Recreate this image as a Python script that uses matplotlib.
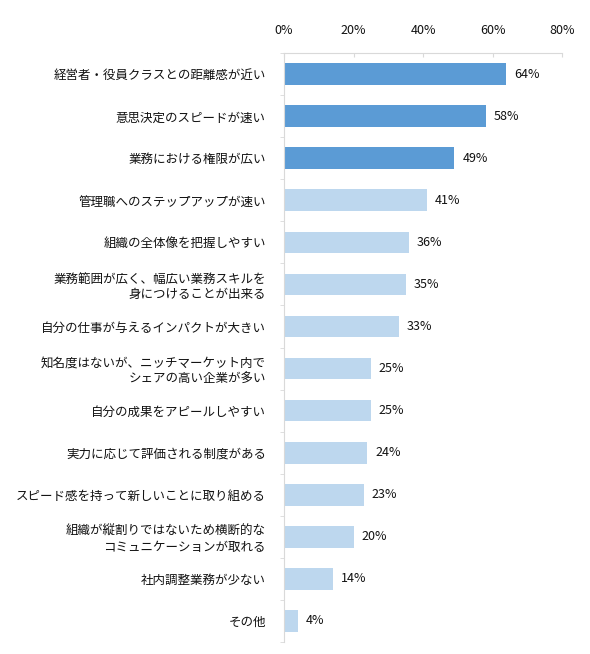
import numpy as np
import matplotlib
matplotlib.use("Agg")
import matplotlib.pyplot as plt
from matplotlib.ticker import FuncFormatter

plt.rcParams['font.family'] = ['Noto Sans CJK JP', 'DejaVu Sans']

labels = [
    "経営者・役員クラスとの距離感が近い",
    "意思決定のスピードが速い",
    "業務における権限が広い",
    "管理職へのステップアップが速い",
    "組織の全体像を把握しやすい",
    "業務範囲が広く、幅広い業務スキルを\n身につけることが出来る",
    "自分の仕事が与えるインパクトが大きい",
    "知名度はないが、ニッチマーケット内で\nシェアの高い企業が多い",
    "自分の成果をアピールしやすい",
    "実力に応じて評価される制度がある",
    "スピード感を持って新しいことに取り組める",
    "組織が縦割りではないため横断的な\nコミュニケーションが取れる",
    "社内調整業務が少ない",
    "その他",
]
values = [64, 58, 49, 41, 36, 35, 33, 25, 25, 24, 23, 20, 14, 4]
n_dark = 3
dark = "#5B9BD5"
light = "#BDD7EE"
grid_c = "#D9D9D9"

fig = plt.figure(figsize=(5.9, 6.54), dpi=100)
ax = fig.add_axes([0.4814, 0.0188, 0.4712, 0.8997])

y = np.arange(len(values))
colors = [dark if i < n_dark else light for i in range(len(values))]
ax.barh(y, values, height=0.52, color=colors)

for yi, v in zip(y, values):
    ax.text(v + 2.3, yi, f"{v}%", va="center", ha="left", fontsize=9, color="#111111")

ax.set_xlim(0, 80)
ax.set_ylim(len(values) - 0.5, -0.5)
ax.xaxis.tick_top()
ax.set_xticks([0, 20, 40, 60, 80])
ax.xaxis.set_major_formatter(FuncFormatter(lambda v, p: f"{int(v)}%"))
ax.tick_params(axis="x", direction="in", length=3, color=grid_c, pad=12,
               labelsize=9, labelcolor="#111111")

ax.set_yticks(y)
ax.set_yticklabels(labels, fontsize=9, color="#111111", linespacing=1.25)
ax.set_yticks(np.arange(len(values) + 1) - 0.5, minor=True)
ax.tick_params(axis="y", which="major", length=0, pad=13)
ax.tick_params(axis="y", which="minor", length=3, color=grid_c)

for s in ["right", "bottom"]:
    ax.spines[s].set_visible(False)
ax.spines["top"].set_color(grid_c)
ax.spines["left"].set_color(grid_c)

fig.savefig("out.png", dpi=100)
